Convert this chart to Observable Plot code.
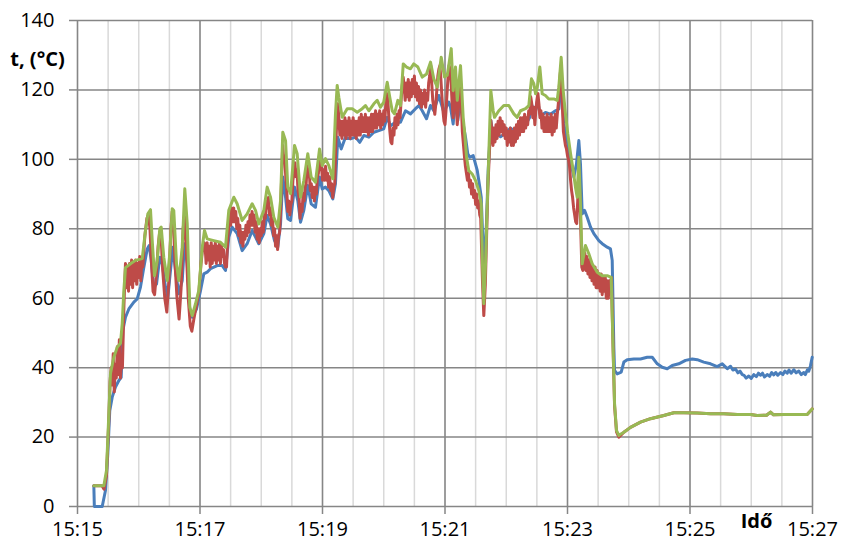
<!DOCTYPE html>
<html>
<head>
<meta charset="utf-8">
<script src="https://cdn.jsdelivr.net/npm/d3@7"></script>
<script src="https://cdn.jsdelivr.net/npm/@observablehq/plot@0.6"></script>
<style>
  html, body { margin: 0; padding: 0; background: #fff; }
  #chart { width: 842px; height: 550px; }
</style>
</head>
<body>
<div id="chart"></div>
<script>
// Series names and colours (Excel 2007 palette)
const seriesNames = ["t1", "t2", "t3"];
const seriesColors = ["#4a7ebb", "#be4b48", "#98b954"];

// Axis ticks
const yTicks = [0, 20, 40, 60, 80, 100, 120, 140];
const xTickLabels = ["15:15", "15:17", "15:19", "15:21", "15:23", "15:25", "15:27"];
const yTitle = "t, (°C)";
const xTitle = "Idő";

// Values: [seconds after 15:15:00, temperature °C]
const blue = [
[16,6],[16.5,0],[24.2,0],[27.4,4.6],[29.7,15.2],[31.6,27.6],[34,31.5],[37.2,34.4],[40.5,36.3],[42.8,37.2],[44.4,50.7],[47,54.5],[50.3,56.9],[55.2,58.9],[58.5,59.8],[61.7,63.2],[65,68.9],[68.3,74.2],[70.2,75.2],[72.2,70.9],[74.7,63.2],[77.4,64.1],[80.6,71.8],[83,69.9],[86.2,63.2],[88.5,60.3],[91.1,68],[93.4,74.7],[96,68],[99.2,61.3],[102.6,65.1],[104.8,75.7],[107.5,69.9],[110,56.5],[112.4,54.5],[116.6,56.9],[120.5,62.2],[123.7,67],[127,67.5],[130.3,68.5],[136.9,69.4],[141.8,69.4],[145,68],
[148.2,77.6],[151.5,80.5],[156.4,78.6],[161.3,73.7],[166.2,75.7],[171.1,79.5],[174.4,77.6],[177.6,75.7],[182.5,78.6],[185.8,83.8],[189.1,81.4],[193,76.6],[196.2,74.7],[198.9,81.4],[201.1,94.9],[203.8,89.1],[206,82.9],[208.7,82.4],[212.6,92],[215.8,88.1],[218.5,81.9],[221.7,85.3],[225.6,92.5],[228.9,87.2],[233.1,86.2],[237.1,94.9],[239.7,91.5],[242.9,92],[246.2,91],[250.1,88.6],[252.7,93],
[255,106.4],[258.3,103],[262.5,106.4],[267.4,105.9],[272.3,106.4],[276.5,104.9],[280.5,106.9],[285.4,106.4],[290.3,107.8],[295.2,108.3],[300,108.8],[303.4,112.1],[306.6,109.7],[311.5,110.7],[316.4,110.7],[321.3,114],[326.2,113.1],[331.1,114.6],[334.4,115.5],[337.7,114],[341.9,111.7],[345.8,115.5],[349,114],[353.9,118.4],[358.8,113.6],[363.7,116.5],[365.4,115],[368,110.2],[370.3,117.9],[372.5,111.2],[375.2,117],[377.8,110.2],
[380.1,106.4],[382.3,101.6],[384.3,100.6],[387.6,101.1],[391.6,96.8],[394.1,92],[395.5,89.1],[396.7,79.5],[398,68],[400.6,81.4],[402.3,96.8],[404.9,111.2],[407.2,106.4],[409.5,107.5],[414.4,106.5],[419.3,107.5],[424.2,109],[429.1,108],[434,108.5],[438.9,110],[442.8,112],[444.7,116],[447.7,113],[450.6,117],[453.5,112.5],[458.4,113.5],[463.3,113],[468.2,114],[471.5,114.5],[473.2,120],[475.1,117],
[476.4,110.2],[479.7,105.4],[483,99.7],[486.2,94.9],[488.8,98.7],[491.1,105.4],[492.7,98.7],[494.4,84.3],[496.7,85.3],[499.3,83.3],[502.5,80.5],[505.8,78.6],[510.7,76.6],[514,75.7],[518.9,74.7],[522.1,74.2],[523.8,70.9],[525.4,45.9],[526.1,39.2],[528.7,38.2],[532.6,38.7],[535.2,41.6],[538.5,42.3],[545,42.5],[551.5,42.5],[558.1,43],[563,43],[567.9,41.1],[572.8,40.1],[577.7,39.7],[582.6,40.6],[589,41.1],[595.6,42.1],[602.2,42.5],[607.1,42.3],[613.5,41.6],[620.1,41.1],[626.6,40.3],[631.6,41.1],[636.5,39.7],
[639.7,40.4],[642,39.3],[644.6,39.6],[647,38.5],[649,39.0],[651.2,38.0],[653,37.8],[655,37.0],[657.6,37.6],[660,36.9],[662.5,38.0],[665,37.4],[667,38.4],[669.1,37.8],[671,38.4],[673,37.3],[675.6,38.0],[678,37.5],[680,38.6],[682.1,37.9],[684,38.6],[686,37.8],[688.7,38.6],[691,38.0],[693,39.0],[695.2,38.4],[697,39.3],[699,38.4],[701.7,39.4],[704,38.5],[706.6,39.0],[709,38.0],[711.5,38.6],[713,38.0],[715,39.4],[716.4,39.0],[718,40.5],[719.7,43]
];

const red = [
[16,6],[24,6],[26,5],[28.4,9],[30.7,25],[31.9,36],[33,40],[34,35],[35,44],[36,33],[37,41],[38,37],[39,46],[40,38],[41,48],[42,37],[43,42],[44,40],[45.5,58],[46.5,66],
[47,70],[48,63],[49,69],[50,62],[51,70],[52,64],[53,71],[54,63],[55,70],[56,65],[57,71],[58,64],[59,70],[60,66],[61,72],[62,65],[63,71],[64,69],
[66,78],[68,83],[69.5,84],[71,80],[72.5,70],[74,62],[75.5,61],[77,66],[79,75],[80.5,79],[82,77],[83.5,68],[85.5,60],[87.5,56],[89.5,65],[91.5,80],[92.8,85],[94,82],[95.5,70],[97.5,60],[99.5,54],[101.5,63],[103.5,80],[104.8,84],[106.5,75],[108.5,60],[110.5,52],[112,50.5],[114,54],[116.5,58],[119,62],[121,70],[122.5,74],[124,76],
[125,75],[126,70],[127,76],[128,71],[129,75],[130,69],[131,76],[132,70],[133,75],[134,71],[135,76],[136,70],[137,75],[138,71],[139,76],[140,70],[141,75],[142,72],[143,74],[144,70],[145,69],
[146,69],[147,76],[148,80],[149,84],[150,81],[151,86],[152,82],[153,86],[154,82],[155,85],[156,80],[157,83],[158,78],[159,81],[160,76],[161,79],[162,75],[163,79],[164,77],[165,81],[166,78],[167,82],[168,79],[169,84],[170,81],[171,85],[172,81],[173,84],[174,79],[175,82],[176,77],[177,80],[178,76],[179,80],[180,78],[181,82],[182,79],[183,84],[184,83],[185,88],[186,86],[187,89],[188,84],[189,86],[190,81],[191,83],[192,78],[193,80],[194,75],[195,78],[196,74],[197,78],[198,79],[199,86],[200,95],[201,104],[202,100],[203,101],[204,95],[205,91],[206,85],[207,88],[208,84],[209,87],[210,88],[211,94],[212,96],[213,99],[214,95],[215,97],[216,91],[217,89],[218,83],[219,87],[220,85],[221,90],[222,88],[223,92],[224,93],[225,98],[226,95],[227,97],[228,91],[229,93],[230,89],[231,92],[232,88],[233,92],[234,90],[235,95],[236,96],[237,101],[238,97],[239,98],[240,94],[241,97],[242,94],[243,98],[244,94],[245,96],[246,92],[247,95],[248,91],[249,93],[250,89],[251,92],[252,93],[253,104],[254,111],
[255,116],[256,112],[257,107],[258,111],[259,106],[260,111],[261,107],[262,112],[263,106],[264,111],[265,107],[266,112],[267,106],[268,111],[269,107],[270,112],[271,107],[272,111],[273,106],[274,111],[275,107],[276,112],[277,107],[278,113],[279,108],[280,112],[281,108],[282,113],[283,108],[284,112],[285,107],[286,112],[287,108],[288,113],[289,108],[290,113],[291,109],[292,114],[293,109],[294,113],[295,110],[296,114],[297,109],[298,113],[299,110],[300,114],[301,111],[302,116],[303,119],[304,117],[305,112],[306,108],[307,105],[308,104.5],[309,109],[310,107],[311,112],[312,109],[313,113],[314,110],[315,114],[316,112],[317,117],[318,121],[319,123.7],
[320,121],[321,117],[322,122],[323,118],[324,123],[325,117],[326,122],[327,118],[328,123],[329,119],[330,124],[331,118],[332,122],[333,117],[334,121],[335,116],[336,120],[337,115],[338,119],[339,116],[340,120],[341,115],[342,119],[343,117],[344,122],[345,124],[346,127],[347,122],[348,117],[349,115],[350,113],[351,116],[352,120],[353,124],[354,126],[355,127],[356,123],[357,118],[358,114],[359,111],[360,110],[361,114],[362,119],[363,124],[364,127],[365,126],[366,122],[367,116],[368,112],[369,117],[370,122],[371,116],[372,110],[373,114],[374,119],[375,123],[376,116],[377,108],[378,104.5],[379,101],[380,98],
[381,96],[382,94],[383,96],[384,92],[385,94],[386,90],[387,93],[388,89],[389,91],[390,87],[391,90],[392,86],[393,88],[394,84],[395,83],[396.7,65],[398,55],[399.5,64],[402,92],[404.9,111.2],
[406,108],[407,104],[408,109],[409,105],[410,110],[411,106],[412,111],[413,107],[414,112],[415,108],[416,111],[417,107],[418,110],[419,106],[420,109],[421,104],[422,108],[423,105],[424,109],[425,104],[426,108],[427,104],[428,109],[429,105],[430,110],[431,106],[432,111],[433,107],[434,112],[435,108],[436,112],[437,108],[438,113],[439,109],[440,112],[441,110],[442,114],[443,113],[444,118],[445,116],[446,112],[447,115],[448,110],[449,114],[450,117],[451,119],[452,116],[453,112],[454,114],[455,109],[456,113],[457,108],[458,112],[459,108],[460,113],[461,108],[462,112],[463,108],[464,113],[465,107],[466,112],[467,108],[468,113],[469,109],[470,113],[471,116],[472,121],[473,125],[474,124],[475,115],[476,108],[477,106],[478,104],[479,103],[480,101],[481,100],[482,98],[483,94],[484,91],[485,89],[486,86],[487,84],[488,82],[489,81.5],[490,88],[491,97],[492,90],[493,80],[494,69],[495,68],[496,72],
[497,73],[498,68],[499,72],[500,67],[501,71],[502,66],[503,70],[504,65],[505,69],[506,64],[507,69],[508,63],[509,68],[510,63],[511,67],[512,62],[513,67],[514,61],[515,66],[516,62],[517,66],[518,60],[519,65],[520,60],[521,65],[522,62],[523,66],[524.8,44],[526.1,29],[528,21.5],[530.3,20],
[535.2,21.4],[541.7,22.8],[551.5,24.3],[561.3,25.3],[574.3,26.2],[584.1,27],[593.9,27],[607.1,26.9],[620.1,26.7],[633.1,26.7],[646.3,26.5],[659.3,26.5],[665.8,26.2],[675,26.3],[678.9,27.2],[681.8,26.4],[691.9,26.5],[703.4,26.5],[714.8,26.5],[719.7,28.1]
];

const green = [
[16,6],[25.8,6],[28.4,10.4],[30.7,26.7],[32.3,38.3],[35.6,43],[38.9,45.9],[42.1,47],[43.8,52.7],[45.4,62.2],[47,68.8],[51.9,69.9],[56.8,70.9],[63.4,71.4],[66.6,79.5],[68.9,84.3],[71.5,85.5],[73.2,76.6],[75.4,66.5],[78.1,70.9],[80.6,80],[82,80.5],[84.5,71.8],[87.9,65.1],[90.4,72.8],[92.8,85.8],[94.3,85.3],[97,69.9],[99.2,65.1],[102.6,74.7],[105.1,91.5],[107.5,81.4],[110,57.4],[112.4,55],[115.6,58.4],[118.8,62.2],[122.2,74.7],[124.4,79.5],[127,77.1],[133.5,76.6],[140.1,76.1],[145,74.7],
[148.2,85.3],[153.1,89.1],[156.4,87.2],[161.3,82.4],[166.2,84.3],[171.1,87.2],[174.4,85.3],[177.6,81.4],[182.5,85.3],[185.8,92],[189.1,89.1],[192.3,83.3],[196.2,80.5],[198.9,88.1],[201.1,107.8],[203.8,105.4],[206,92],[208.7,90.1],[212.6,104],[215.2,101.6],[218.5,89.1],[221.7,93.9],[225.6,101.6],[228.9,94.9],[233.1,93.4],[237.1,103],[239.7,98.2],[242.9,100.2],[246.2,98.2],[250.1,94.4],
[252.7,113.1],[254.4,121.3],[256,117.9],[259.3,112.1],[264.2,114.6],[269.1,114.6],[274,113.6],[278.9,114.6],[282.1,115.5],[285.4,114],[290.3,116],[293.6,117],[296.8,115],[300,116.5],[303.4,122.2],[305.9,117.9],[308.3,114],[310.5,113.1],[313.8,117],[316.4,115.5],[319.1,127.5],[322.3,126.6],[326.2,126.1],[329.4,127.5],[333.4,126.6],[337.7,123.7],[341.9,124.6],[345.8,128],[349,123.2],[352.4,120.8],[356.3,129.4],[359.5,123.7],[362.2,124.2],[366.1,131.9],[368,119.8],[370.3,126.6],[372,117],[375.2,127],[377.8,112.1],[379.1,108.3],
[381.1,100.6],[383.3,96.8],[386.6,95.8],[389.9,93.9],[393.1,91],[395.5,87.2],[396.7,69.9],[398,58.4],[399.7,69.9],[402.3,95.8],[404.9,119.8],[407.2,114],[408.5,112.1],[412.7,114],[417.6,115.5],[422.5,115.5],[427.4,113.1],[430.7,112.1],[434,114],[438.9,114.6],[442.1,115.5],[444.7,123.2],[447,121.8],[448.7,118.9],[450.3,120.5],[452.9,126.6],[455.2,118.9],[458.4,118.4],[461.7,117.4],[466.6,117.4],[469.9,117],[471.5,120.8],[473.8,129.4],[475.8,119.8],
[478,113.1],[480.3,107.3],[483,101.6],[485.6,96.8],[487.8,92],[489.5,89.1],[491.1,100.6],[492.7,87.2],[494.4,69.9],[497.6,75.2],[500.9,72.8],[504.2,69.9],[509.1,67.5],[514,66.5],[518.9,66.5],[522.8,66],[524.8,44],[526.1,29.6],[528,21.9],[530.3,20.5],
[535.2,21.4],[541.7,22.8],[551.5,24.3],[561.3,25.3],[574.3,26.2],[584.1,27],[593.9,27],[607.1,26.9],[620.1,26.7],[633.1,26.7],[646.3,26.5],[659.3,26.5],[665.8,26.2],[675,26.3],[678.9,27.2],[681.8,26.4],[691.9,26.5],[703.4,26.5],[714.8,26.5],[719.7,28.1]
];

// ---- build table ----
const startMs = Date.UTC(2020, 0, 1, 15, 15, 0);
const toDate = s => new Date(startMs + s * 1000);
const seriesData = [blue, red, green];
const rows = [];
seriesData.forEach((arr, i) => arr.forEach(([s, v]) => rows.push({time: toDate(s), value: v, series: seriesNames[i]})));

const xMajor = xTickLabels.map(l => { const [h, m] = l.split(":").map(Number); return new Date(Date.UTC(2020, 0, 1, h, m, 0)); });
const xMinor = d3.utcSecond.every(30).range(xMajor[0], new Date(+xMajor[xMajor.length - 1] + 1));
const gridColor = "#868686";

const chart = Plot.plot({
  width: 842,
  height: 550,
  marginLeft: 77,
  marginRight: 30,
  marginTop: 20,
  marginBottom: 44,
  style: {fontFamily: "'Open Sans', sans-serif", fontSize: "20px", background: "#fff", color: "#000", overflow: "visible"},
  x: {type: "utc", domain: [xMajor[0], xMajor[xMajor.length - 1]]},
  y: {domain: [yTicks[0], yTicks[yTicks.length - 1]]},
  color: {domain: seriesNames, range: seriesColors},
  marks: [
    Plot.ruleX(xMinor, {stroke: "#d9d9d9", strokeWidth: 1.5}),
    Plot.ruleX(xMajor, {stroke: gridColor, strokeWidth: 1.5}),
    Plot.ruleY(yTicks, {stroke: gridColor, strokeWidth: 1.5}),
    Plot.axisY({ticks: yTicks, tickSize: 8, tickPadding: 15, stroke: gridColor, strokeWidth: 1.5, fill: "#000", label: null, fontSize: 20}),
    Plot.axisX({ticks: xMajor, tickFormat: d3.utcFormat("%H:%M"), tickSize: 8, tickPadding: 7, stroke: gridColor, strokeWidth: 1.5, fill: "#000", label: null, fontSize: 20}),
    Plot.line(rows, {x: "time", y: "value", z: "series", stroke: "series", strokeWidth: 3}),
    Plot.text([yTitle], {frameAnchor: "top-left", dx: -40, dy: 31, textAnchor: "middle", fontWeight: "bold", fontSize: 20, fill: "#000"}),
    Plot.text([xTitle], {frameAnchor: "bottom-right", dx: -56, dy: 21, textAnchor: "middle", fontWeight: "bold", fontSize: 20, fill: "#000"})
  ]
});
document.getElementById("chart").appendChild(chart);
</script>
</body>
</html>
